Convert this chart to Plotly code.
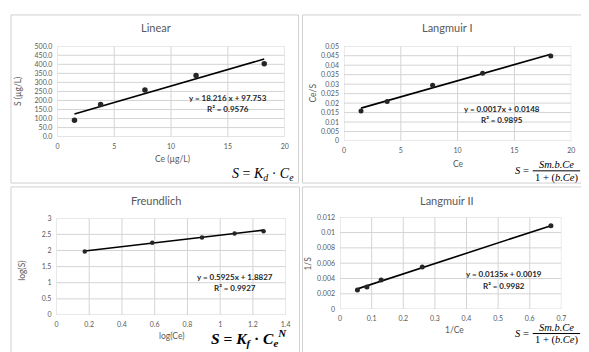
import plotly.graph_objects as go

W, H = 589, 352

# ---------------- data ----------------
lin_ce = [1.5, 3.8, 7.7, 12.2, 18.2]
lin_s = [90, 178, 258, 338, 403]
lin_fit = (18.216, 97.753)

lang1_ce = [1.5, 3.8, 7.8, 12.2, 18.2]
lang1_ce_s = [0.0159, 0.0208, 0.0294, 0.0357, 0.0448]
lang1_fit = (0.0017, 0.0148)

fr_logce = [0.173, 0.585, 0.889, 1.088, 1.265]
fr_logs = [1.97, 2.24, 2.40, 2.53, 2.60]
fr_fit = (0.5925, 1.8827)

lang2_inv_ce = [0.055, 0.085, 0.13, 0.26, 0.667]
lang2_inv_s = [0.0025, 0.0029, 0.0038, 0.0055, 0.0109]
lang2_fit = (0.0135, 0.0019)

titles = ["Linear", "Langmuir I", "Freundlich", "Langmuir II"]
x_titles = ["Ce (µg/L)", "Ce", "log(Ce)", "1/Ce"]
y_titles = ["S (µg/L)", "Ce/S", "log(S)", "1/S"]
eq_texts = ["y = 18.216 x + 97.753", "y = 0.0017x + 0.0148",
            "y = 0.5925x + 1.8827", "y = 0.0135x + 0.0019"]
r2_texts = ["R² = 0.9576", "R² = 0.9895", "R² = 0.9927", "R² = 0.9982"]

lin_yticks = [0, 50, 100, 150, 200, 250, 300, 350, 400, 450, 500]
lin_ytext = ["0.0", "50.0", "100.0", "150.0", "200.0", "250.0", "300.0",
             "350.0", "400.0", "450.0", "500.0"]
ce_xticks = [0, 5, 10, 15, 20]
lang1_yticks = [0, 0.005, 0.01, 0.015, 0.02, 0.025, 0.03, 0.035, 0.04, 0.045, 0.05]
lang1_ytext = ["0", "0.005", "0.01", "0.015", "0.02", "0.025", "0.03",
               "0.035", "0.04", "0.045", "0.05"]
fr_xticks = [0, 0.2, 0.4, 0.6, 0.8, 1, 1.2, 1.4]
fr_xtext = ["0", "0.2", "0.4", "0.6", "0.8", "1", "1.2", "1.4"]
fr_yticks = [0, 0.5, 1, 1.5, 2, 2.5, 3]
fr_ytext = ["0", "0.5", "1", "1.5", "2", "2.5", "3"]
lang2_xticks = [0, 0.1, 0.2, 0.3, 0.4, 0.5, 0.6, 0.7]
lang2_xtext = ["0", "0.1", "0.2", "0.3", "0.4", "0.5", "0.6", "0.7"]
lang2_yticks = [0, 0.002, 0.004, 0.006, 0.008, 0.01, 0.012]
lang2_ytext = ["0", "0.002", "0.004", "0.006", "0.008", "0.01", "0.012"]

# ---------------- helpers ----------------
def px(x):
    return x / W

def py(y):
    return 1 - y / H

FONT = "Lato, 'Open Sans', sans-serif"
GRAY = "#595959"
GRID = "#d4d4d4"

fig = go.Figure()
shapes = []
annotations = []

panels = [
    dict(x=lin_ce, y=lin_s, fit=lin_fit, xd=(48, 278), yd=(34, 126.5),
         xr=[0, 20], yr=[0, 500], xt=(ce_xticks, [str(v) for v in ce_xticks]),
         yt=(lin_yticks, lin_ytext), msize=5.5),
    dict(x=lang1_ce, y=lang1_ce_s, fit=lang1_fit, xd=(338, 568), yd=(34, 131),
         xr=[0, 20], yr=[0, 0.05], xt=(ce_xticks, [str(v) for v in ce_xticks]),
         yt=(lang1_yticks, lang1_ytext), msize=5),
    dict(x=fr_logce, y=fr_logs, fit=fr_fit, xd=(47, 279), yd=(210, 309),
         xr=[0, 1.4], yr=[0, 3], xt=(fr_xticks, fr_xtext),
         yt=(fr_yticks, fr_ytext), msize=4.5),
    dict(x=lang2_inv_ce, y=lang2_inv_s, fit=lang2_fit, xd=(334, 558), yd=(209, 303),
         xr=[0, 0.7], yr=[0, 0.012], xt=(lang2_xticks, lang2_xtext),
         yt=(lang2_yticks, lang2_ytext), msize=5),
]

for i, p in enumerate(panels):
    n = "" if i == 0 else str(i + 1)
    xa, ya = "x" + n, "y" + n
    # gridlines at the tick values, drawn on the axes' own scales
    gx, gy = [], []
    for v in p["xt"][0]:
        gx += [v, v, None]
        gy += [p["yr"][0], p["yr"][1], None]
    for v in p["yt"][0]:
        gx += [p["xr"][0], p["xr"][1], None]
        gy += [v, v, None]
    fig.add_trace(go.Scatter(x=gx, y=gy, xaxis=xa, yaxis=ya, mode="lines",
                             line=dict(color=GRID, width=1), showlegend=False,
                             hoverinfo="skip", cliponaxis=False))
    slope, icpt = p["fit"]
    xs = [min(p["x"]), max(p["x"])]
    fig.add_trace(go.Scatter(x=xs, y=[slope * v + icpt for v in xs], xaxis=xa, yaxis=ya,
                             mode="lines", line=dict(color="#000000", width=1.6),
                             showlegend=False, hoverinfo="skip"))
    fig.add_trace(go.Scatter(x=p["x"], y=p["y"], xaxis=xa, yaxis=ya, mode="markers",
                             marker=dict(color="#262626", size=p["msize"]),
                             showlegend=False))
    axcommon = dict(showgrid=False, zeroline=False, showline=False, ticks="",
                    tickfont=dict(family=FONT, size=7, color=GRAY), fixedrange=True)
    fig.update_layout({
        "xaxis" + n: dict(domain=[px(p["xd"][0]), px(p["xd"][1])], anchor=ya,
                          range=p["xr"], tickmode="array", tickvals=p["xt"][0],
                          ticktext=p["xt"][1], ticklabelstandoff=4, **axcommon),
        "yaxis" + n: dict(domain=[py(p["yd"][1]), py(p["yd"][0])], anchor=xa,
                          range=p["yr"], tickmode="array", tickvals=p["yt"][0],
                          ticktext=p["yt"][1], ticklabelstandoff=4, **axcommon),
    })

def ann(text, x, y, size, color=GRAY, angle=0, family=FONT, **kw):
    annotations.append(dict(text=text, x=px(x), y=py(y), xref="paper", yref="paper",
                            showarrow=False, xanchor=kw.pop("xanchor", "center"),
                            yanchor=kw.pop("yanchor", "middle"), textangle=angle,
                            font=dict(family=family, size=size, color=color), **kw))

# panel borders
for (x0, y0, x1, y1) in [(1, 2, 292, 174), (296, 2, 586, 174),
                         (1, 178, 293, 350), (296, 178, 586, 350)]:
    shapes.append(dict(type="rect", xref="paper", yref="paper", x0=px(x0), x1=px(x1),
                       y0=py(y1), y1=py(y0), line=dict(color="#d0d0d0", width=1),
                       fillcolor="rgba(0,0,0,0)"))

# titles
title_pos = [(148, 15), (442, 15), (148, 192), (442, 192)]
for t, (x, y) in zip(titles, title_pos):
    ann(t, x, y, 11)

# axis titles
xt_pos = [(164, 149), (454, 154), (163, 331), (450, 324)]
for t, (x, y) in zip(x_titles, xt_pos):
    ann(t, x, y, 8.5)
yt_pos = [(8, 80), (307, 82), (12, 264), (302, 256)]
for t, (x, y) in zip(y_titles, yt_pos):
    ann(t, x, y, 8.5, angle=-90)

# equations
eq_pos = [(221, 87, 98.5), (498, 98, 109), (228, 270.5, 281), (500, 267.5, 279)]
for e, r, (x, y1, y2) in zip(eq_texts, r2_texts, eq_pos):
    ann("<b>" + e + "</b>", x, y1, 8, color="#262626")
    ann("<b>" + r + "</b>", x, y2, 8, color="#262626")

# model formulas
SERIF = "'Liberation Serif', 'DejaVu Serif', serif"
ann("<i>S</i> = <i>K<sub>d</sub></i> · <i>C<sub>e</sub></i>", 256, 165, 14,
    color="#000000", family=SERIF)
ann("<b><i>S</i> = <i>K<sub>f</sub></i> · <i>C<sub>e</sub><sup>N</sup></i></b>", 242, 333, 15.5,
    color="#000000", family=SERIF)

def langmuir_formula(xs, ycenter):
    ann("<i>S</i> =", xs, ycenter, 10.5, color="#000000", family=SERIF)
    ann("<i>Sm.b.Ce</i>", xs + 35, ycenter - 6.5, 10.5, color="#000000", family=SERIF)
    ann("1 + (<i>b.Ce</i>)", xs + 35, ycenter + 7, 10.5, color="#000000", family=SERIF)
    shapes.append(dict(type="line", xref="paper", yref="paper", x0=px(xs + 11),
                       x1=px(xs + 59), y0=py(ycenter), y1=py(ycenter),
                       line=dict(color="#000000", width=1)))

langmuir_formula(518, 161.5)
langmuir_formula(518, 328)

fig.update_layout(width=W, height=H, margin=dict(l=0, r=0, t=0, b=0),
                  paper_bgcolor="white", plot_bgcolor="white",
                  annotations=annotations, shapes=shapes, showlegend=False)

fig.write_html("out.html", config={"displayModeBar": False})
